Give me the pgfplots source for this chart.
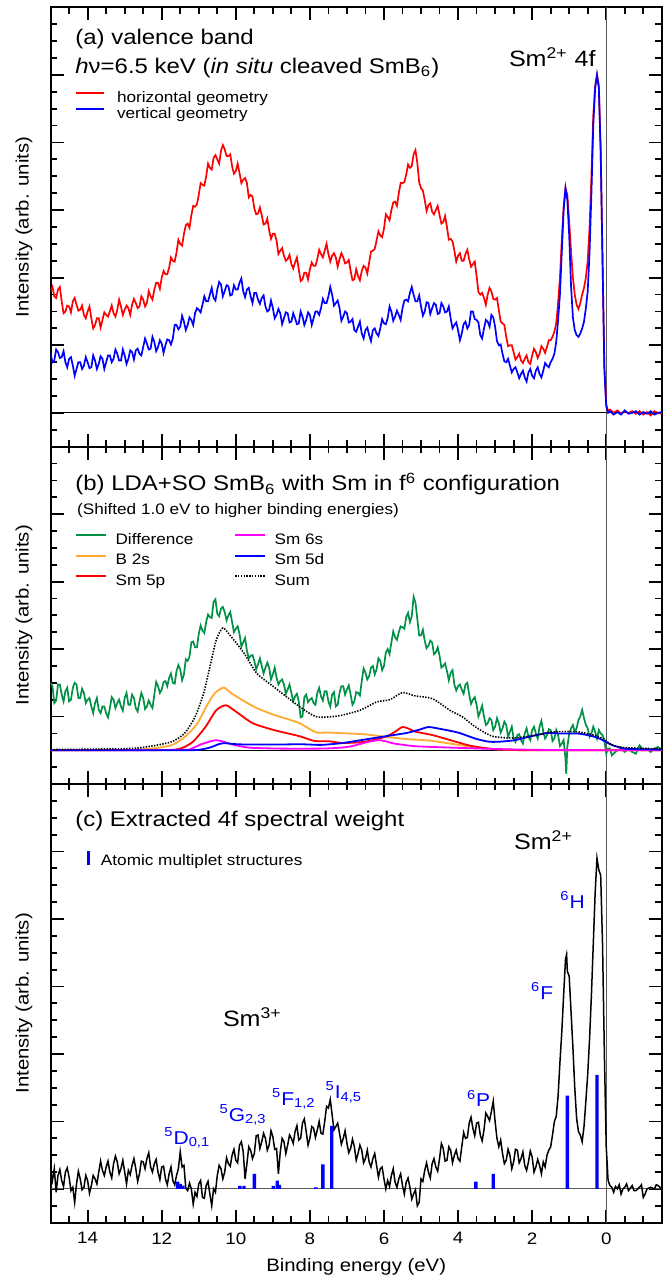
\documentclass[border=0pt]{standalone}
\usepackage{fontspec}
\setmainfont{Liberation Sans}[FakeStretch=1.13]
\usepackage{pgfplots}
\pgfplotsset{compat=1.18}
\definecolor{dgreen}{RGB}{0,145,70}
\definecolor{orng}{RGB}{255,170,50}
\definecolor{mgnt}{RGB}{255,0,255}
\definecolor{zgray}{RGB}{90,90,90}
\newcommand{\fT}{\fontsize{10.6}{12}\selectfont}
\newcommand{\fL}{\fontsize{7.6}{9}\selectfont}
\newcommand{\fA}{\fontsize{9}{11}\selectfont}
\newcommand{\fS}{\fontsize{11.1}{13}\selectfont}
\newcommand{\fB}{\fontsize{9.3}{11}\selectfont}
\pgfplotsset{
  panel/.style={
    width=305.6pt, scale only axis,
    xmin=-1.5, xmax=15, x dir=reverse,
    xtick={16,14,...,-2}, minor x tick num=3,
    yticklabels={},
    tick align=inside, tick pos=both,
    major tick length=6.5pt, minor tick length=3.2pt,
    tick style={black, line width=0.9pt},
    axis line style={line width=1pt},
    ylabel={Intensity (arb. units)},
    ylabel style={font=\fA, at={(axis description cs:-0.0435,0.5)}, anchor=center},
    legend cell align=left,
    /pgf/number format/assume math mode=true,
  },
}
\begin{document}
\begin{tikzpicture}
\useasboundingbox (0,0) rectangle (335.5pt,-638.5pt);
% ---------------- (a)
\begin{axis}[panel, at={(25.3pt,-223.35pt)}, anchor=south west, height=219.7pt,
  xticklabels={},
  ymin=-2, ymax=24, ytick={-4,0,...,28}, minor y tick num=3,
  legend style={at={(axis description cs:0.0391,0.8125)}, anchor=north west, draw=none, fill=none, inner sep=0pt, font=\fL, row sep=0pt,
    nodes={inner sep=0.4pt, text height=5.6pt, text depth=1.6pt},
    /tikz/column 1/.style={column sep=5.75pt}},
  legend image code/.code={\draw[#1] (0pt,2.7pt) -- (14.1pt,2.7pt);},
]
\addplot[black, line width=0.5pt, forget plot] coordinates {(15,0) (-1.5,0)};
\addplot[zgray, line width=0.5pt, forget plot] coordinates {(0,-2) (0,24)};
\addplot[red, line width=0.85pt] coordinates {
(15.0,7.2) (14.95,7.45) (14.9,6.9) (14.85,6.8) (14.8,7.3) (14.75,7.45) (14.7,6.6) (14.65,5.9) (14.6,6.0) (14.55,6.35) (14.5,6.3) (14.45,5.95) (14.4,6.6) (14.35,6.8) (14.3,6.4) (14.25,6.05) (14.2,6.1) (14.15,6.35) (14.1,5.8) (14.05,5.6) (14.0,6.0) (13.95,6.3) (13.9,5.6) (13.85,5.0) (13.8,5.2) (13.75,5.6) (13.7,5.6) (13.65,5.05) (13.6,5.5) (13.55,5.95) (13.5,5.8) (13.45,5.7) (13.4,6.0) (13.35,6.35) (13.3,5.9) (13.25,5.7) (13.2,6.1) (13.15,6.7) (13.1,6.3) (13.05,5.8) (13.0,6.1) (12.95,6.35) (12.9,6.2) (12.85,5.8) (12.8,6.4) (12.75,6.75) (12.7,6.5) (12.65,6.2) (12.6,6.3) (12.55,6.9) (12.5,6.7) (12.45,6.3) (12.4,6.5) (12.35,7.2) (12.3,6.9) (12.25,6.7) (12.2,7.3) (12.15,7.7) (12.1,7.7) (12.05,7.35) (12.0,8.0) (11.95,8.4) (11.9,8.2) (11.85,8.2) (11.8,8.6) (11.75,9.2) (11.7,9.0) (11.65,8.95) (11.6,9.5) (11.55,10.25) (11.5,10.0) (11.45,9.9) (11.4,10.6) (11.35,11.1) (11.3,11.2) (11.25,10.95) (11.2,11.7) (11.15,12.25) (11.1,12.2) (11.05,12.35) (11.0,12.9) (10.95,13.6) (10.9,13.5) (10.85,13.45) (10.8,14.0) (10.75,14.75) (10.7,14.5) (10.65,14.4) (10.6,15.1) (10.55,15.25) (10.5,15.0) (10.45,14.75) (10.4,15.5) (10.35,15.85) (10.3,15.6) (10.25,15.2) (10.2,15.2) (10.15,15.3) (10.1,14.6) (10.05,14.15) (10.0,14.3) (9.95,14.75) (9.9,14.2) (9.85,13.6) (9.8,13.8) (9.75,13.9) (9.7,13.6) (9.65,12.75) (9.6,12.9) (9.55,12.8) (9.5,12.1) (9.45,11.75) (9.4,11.8) (9.35,12.15) (9.3,11.7) (9.25,11.15) (9.2,11.2) (9.15,11.5) (9.1,10.8) (9.05,10.3) (9.0,10.6) (8.95,10.6) (8.9,10.2) (8.85,9.4) (8.8,9.6) (8.75,9.75) (8.7,9.3) (8.65,9.0) (8.6,9.1) (8.55,9.35) (8.5,8.8) (8.45,8.55) (8.4,8.9) (8.35,9.2) (8.3,8.5) (8.25,7.8) (8.2,7.9) (8.15,8.3) (8.1,8.3) (8.05,7.9) (8.0,8.5) (7.95,8.9) (7.9,8.7) (7.85,8.7) (7.8,9.1) (7.75,9.65) (7.7,9.4) (7.65,9.2) (7.6,9.6) (7.55,10.0) (7.5,9.4) (7.45,8.95) (7.4,9.3) (7.35,9.45) (7.3,9.2) (7.25,8.65) (7.2,9.1) (7.15,9.45) (7.1,9.2) (7.05,8.85) (7.0,8.9) (6.95,9.05) (6.9,8.4) (6.85,7.85) (6.8,7.9) (6.75,8.5) (6.7,8.1) (6.65,7.85) (6.6,8.4) (6.55,8.7) (6.5,8.6) (6.45,8.25) (6.4,8.9) (6.35,9.55) (6.3,9.6) (6.25,9.7) (6.2,10.2) (6.15,10.75) (6.1,10.5) (6.05,10.4) (6.0,10.9) (5.95,11.75) (5.9,11.6) (5.85,11.4) (5.8,12.0) (5.75,12.45) (5.7,12.5) (5.65,12.25) (5.6,13.0) (5.55,13.6) (5.5,13.6) (5.45,13.65) (5.4,14.1) (5.35,14.7) (5.3,14.5) (5.25,14.6) (5.2,15.3) (5.15,15.55) (5.1,14.8) (5.05,13.65) (5.0,13.3) (4.95,13.15) (4.9,12.6) (4.85,11.95) (4.8,12.3) (4.75,12.4) (4.7,11.9) (4.65,11.75) (4.6,12.0) (4.55,12.25) (4.5,11.7) (4.45,11.2) (4.4,11.3) (4.35,11.65) (4.3,11.0) (4.25,10.25) (4.2,10.3) (4.15,10.15) (4.1,9.6) (4.05,8.95) (4.0,9.3) (3.95,9.45) (3.9,9.0) (3.85,9.0) (3.8,9.4) (3.75,9.65) (3.7,9.1) (3.65,8.65) (3.6,8.8) (3.55,8.95) (3.5,8.1) (3.45,7.15) (3.4,7.0) (3.35,7.1) (3.3,6.8) (3.25,6.4) (3.2,7.0) (3.15,7.4) (3.1,7.2) (3.05,6.75) (3.0,6.7) (2.95,6.8) (2.9,6.1) (2.85,5.4) (2.8,5.3) (2.75,5.2) (2.7,4.5) (2.65,3.95) (2.6,4.0) (2.55,4.0) (2.5,3.6) (2.45,3.15) (2.4,3.3) (2.35,3.5) (2.3,3.1) (2.25,2.95) (2.2,3.2) (2.15,3.4) (2.1,3.0) (2.05,2.9) (2.0,3.4) (1.95,3.8) (1.9,3.6) (1.85,3.25) (1.8,3.5) (1.75,3.95) (1.7,3.8) (1.65,3.55) (1.6,3.9) (1.55,4.3) (1.5,4.3) (1.45,4.5) (1.4,4.8) (1.35,5.3) (1.3,6.5) (1.25,8.0) (1.2,10.2) (1.15,12.2) (1.1,13.3) (1.05,12.9) (1.0,11.3) (0.95,9.6) (0.9,8.0) (0.85,7.0) (0.8,6.4) (0.75,6.15) (0.7,6.5) (0.65,7.0) (0.6,7.4) (0.55,8.0) (0.5,9.0) (0.45,11.0) (0.4,14.0) (0.35,17.6) (0.3,19.3) (0.25,20.0) (0.2,19.4) (0.15,15.6) (0.1,9.0) (0.05,2.8) (0.0,0.5) (-0.05,0.1) (-0.1,0.2) (-0.2,0.0) (-0.3,0.15) (-0.4,-0.05) (-0.5,0.1) (-0.6,0.0) (-0.7,0.1) (-0.8,-0.05) (-0.9,0.1) (-1.0,-0.1) (-1.1,0.05) (-1.2,-0.15) (-1.3,0.1) (-1.4,0.0) (-1.5,-0.05)};
\addlegendentry{horizontal geometry}
\addplot[blue, line width=0.85pt] coordinates {
(15.0,3.5) (14.95,3.0) (14.9,3.1) (14.85,3.75) (14.8,3.6) (14.75,3.25) (14.7,3.3) (14.65,3.65) (14.6,3.0) (14.55,2.7) (14.5,3.2) (14.45,3.3) (14.4,2.8) (14.35,2.2) (14.3,2.6) (14.25,3.0) (14.2,3.0) (14.15,2.6) (14.1,2.8) (14.05,3.3) (14.0,3.0) (13.95,2.65) (13.9,2.7) (13.85,3.4) (13.8,3.1) (13.75,2.6) (13.7,2.9) (13.65,3.35) (13.6,3.2) (13.55,2.6) (13.5,3.0) (13.45,3.4) (13.4,3.4) (13.35,3.0) (13.3,3.2) (13.25,3.75) (13.2,3.5) (13.15,3.1) (13.1,3.1) (13.05,3.75) (13.0,3.4) (12.95,2.9) (12.9,3.2) (12.85,3.7) (12.8,3.6) (12.75,3.15) (12.7,3.7) (12.65,3.8) (12.6,3.5) (12.55,3.4) (12.5,3.9) (12.45,4.4) (12.4,4.1) (12.35,3.75) (12.3,3.8) (12.25,4.5) (12.2,4.2) (12.15,3.65) (12.1,3.9) (12.05,4.3) (12.0,4.1) (11.95,3.55) (11.9,4.0) (11.85,4.35) (11.8,4.3) (11.75,4.05) (11.7,4.4) (11.65,5.2) (11.6,5.2) (11.55,4.95) (11.5,5.1) (11.45,5.75) (11.4,5.4) (11.35,4.9) (11.3,5.2) (11.25,5.65) (11.2,5.5) (11.15,5.2) (11.1,5.9) (11.05,6.2) (11.0,6.1) (10.95,5.95) (10.9,6.4) (10.85,6.9) (10.8,6.6) (10.75,6.6) (10.7,7.0) (10.65,7.4) (10.6,6.8) (10.55,6.65) (10.5,7.3) (10.45,7.75) (10.4,7.6) (10.35,6.9) (10.3,7.2) (10.25,7.55) (10.2,7.5) (10.15,6.95) (10.1,7.0) (10.05,7.55) (10.0,7.3) (9.95,7.3) (9.9,7.7) (9.85,7.95) (9.8,7.2) (9.75,6.85) (9.7,7.3) (9.65,7.4) (9.6,6.9) (9.55,6.5) (9.5,7.1) (9.45,7.1) (9.4,6.7) (9.35,6.45) (9.3,6.8) (9.25,6.95) (9.2,6.3) (9.15,6.0) (9.1,6.1) (9.05,6.65) (9.0,6.2) (8.95,5.6) (8.9,5.8) (8.85,6.15) (8.8,5.9) (8.75,5.25) (8.7,5.6) (8.65,5.95) (8.6,5.9) (8.55,5.35) (8.5,5.4) (8.45,5.9) (8.4,5.6) (8.35,5.25) (8.3,5.3) (8.25,6.0) (8.2,5.7) (8.15,5.2) (8.1,5.5) (8.05,5.95) (8.0,5.8) (7.95,5.2) (7.9,5.6) (7.85,6.0) (7.8,6.0) (7.75,5.8) (7.7,6.2) (7.65,6.75) (7.6,6.5) (7.55,6.5) (7.5,6.9) (7.45,7.45) (7.4,7.0) (7.35,6.35) (7.3,6.5) (7.25,6.65) (7.2,6.2) (7.15,5.45) (7.1,5.7) (7.05,6.0) (7.0,5.9) (6.95,5.35) (6.9,5.4) (6.85,5.55) (6.8,4.9) (6.75,4.8) (6.7,5.1) (6.65,5.4) (6.6,4.7) (6.55,4.4) (6.5,4.9) (6.45,5.05) (6.4,4.6) (6.35,4.25) (6.3,4.9) (6.25,5.0) (6.2,4.7) (6.15,4.55) (6.1,5.0) (6.05,5.55) (6.0,5.3) (5.95,5.25) (5.9,5.6) (5.85,6.3) (5.8,6.0) (5.75,5.45) (5.7,5.7) (5.65,6.05) (5.6,5.8) (5.55,5.5) (5.5,6.2) (5.45,6.65) (5.4,6.7) (5.35,6.6) (5.3,7.1) (5.25,7.45) (5.2,7.0) (5.15,6.6) (5.1,6.6) (5.05,6.95) (5.0,6.3) (4.95,5.75) (4.9,6.0) (4.85,6.55) (4.8,6.5) (4.75,5.85) (4.7,6.2) (4.65,6.5) (4.6,6.4) (4.55,5.85) (4.5,5.9) (4.45,6.5) (4.4,6.3) (4.35,5.95) (4.3,6.0) (4.25,6.3) (4.2,5.6) (4.15,5.0) (4.1,5.2) (4.05,5.35) (4.0,4.9) (3.95,4.3) (3.9,4.7) (3.85,5.25) (3.8,5.4) (3.75,5.0) (3.7,5.2) (3.65,6.0) (3.6,6.0) (3.55,5.55) (3.5,5.5) (3.45,5.35) (3.4,4.6) (3.35,4.4) (3.3,5.0) (3.25,5.5) (3.2,5.4) (3.15,5.1) (3.1,5.8) (3.05,5.65) (3.0,5.1) (2.95,4.25) (2.9,4.0) (2.85,4.05) (2.8,3.5) (2.75,3.05) (2.7,3.0) (2.65,3.2) (2.6,2.8) (2.55,2.4) (2.5,2.6) (2.45,2.7) (2.4,2.4) (2.35,2.05) (2.3,2.3) (2.25,2.5) (2.2,2.1) (2.15,1.85) (2.1,2.4) (2.05,2.6) (2.0,2.2) (1.95,2.05) (1.9,2.5) (1.85,2.7) (1.8,2.3) (1.75,2.1) (1.7,2.5) (1.65,2.95) (1.6,2.8) (1.55,2.7) (1.5,3.0) (1.45,3.2) (1.4,3.5) (1.35,4.2) (1.3,5.5) (1.25,7.0) (1.2,9.5) (1.15,12.0) (1.1,13.3) (1.05,12.6) (1.0,10.5) (0.95,7.5) (0.9,5.65) (0.85,4.9) (0.8,4.6) (0.75,4.5) (0.7,4.7) (0.65,5.0) (0.6,5.4) (0.55,6.2) (0.5,7.2) (0.45,9.5) (0.4,13.0) (0.35,17.0) (0.3,19.2) (0.25,20.0) (0.2,19.2) (0.15,15.4) (0.1,9.0) (0.05,2.5) (0.0,0.4) (-0.05,0.0) (-0.1,0.1) (-0.2,-0.1) (-0.3,0.05) (-0.4,-0.1) (-0.5,0.15) (-0.6,-0.05) (-0.7,0.0) (-0.8,0.1) (-0.9,-0.1) (-1.0,0.05) (-1.1,-0.05) (-1.2,0.1) (-1.3,-0.1) (-1.4,0.0) (-1.5,0.05)};
\addlegendentry{vertical geometry}
\end{axis}
% ---------------- (b)
\begin{axis}[panel, at={(25.3pt,-392pt)}, anchor=south west, height=168.65pt,
  xticklabels={},
  ymin=-2, ymax=18, ytick={-6,-2,...,22}, minor y tick num=3,
  legend columns=3, transpose legend,
  legend style={at={(axis description cs:0.0399,0.7538)}, anchor=north west, draw=none, fill=none, inner sep=0pt, font=\fL, row sep=0pt,
    nodes={inner sep=1.5pt, text height=5.6pt, text depth=1.6pt},
    /tikz/column 1/.style={column sep=2.7pt},
    /tikz/column 2/.style={column sep=18.9pt},
    /tikz/column 3/.style={column sep=2.7pt}},
  legend image code/.code={\draw[#1] (0pt,2.5pt) -- (15pt,2.5pt);},
]
\addplot[black, line width=0.5pt, forget plot] coordinates {(15,0) (-1.5,0)};
\addplot[zgray, line width=0.5pt, forget plot] coordinates {(0,-2) (0,18)};
\addplot[dgreen, line width=0.85pt] coordinates {
(15.0,4.0) (14.95,3.8) (14.9,2.8) (14.85,2.95) (14.8,3.9) (14.75,3.9) (14.7,3.3) (14.65,2.9) (14.6,3.5) (14.55,3.7) (14.5,2.9) (14.45,3.0) (14.4,3.7) (14.35,4.0) (14.3,3.9) (14.25,3.1) (14.2,3.1) (14.15,3.65) (14.1,3.4) (14.05,2.8) (14.0,3.0) (13.95,3.1) (13.9,2.6) (13.85,2.2) (13.8,2.8) (13.75,3.1) (13.7,2.4) (13.65,2.2) (13.6,2.6) (13.55,2.6) (13.5,2.2) (13.45,1.95) (13.4,2.5) (13.35,3.15) (13.3,3.0) (13.25,2.5) (13.2,2.8) (13.15,3.0) (13.1,2.6) (13.05,2.35) (13.0,3.1) (12.95,3.4) (12.9,2.7) (12.85,2.7) (12.8,3.3) (12.75,3.1) (12.7,2.5) (12.65,2.3) (12.6,2.9) (12.55,3.4) (12.5,3.1) (12.45,2.45) (12.4,2.6) (12.35,2.95) (12.3,2.7) (12.25,2.5) (12.2,3.3) (12.15,4.05) (12.1,3.8) (12.05,3.4) (12.0,3.6) (11.95,4.05) (11.9,4.1) (11.85,3.8) (11.8,4.3) (11.75,4.55) (11.7,4.0) (11.65,3.95) (11.6,4.7) (11.55,5.05) (11.5,4.8) (11.45,4.15) (11.4,4.5) (11.35,5.4) (11.3,5.3) (11.25,5.55) (11.2,6.4) (11.15,6.45) (11.1,6.1) (11.05,6.1) (11.0,6.9) (10.95,7.4) (10.9,7.1) (10.85,6.95) (10.8,7.6) (10.75,8.05) (10.7,7.9) (10.65,7.85) (10.6,8.8) (10.55,8.95) (10.5,8.1) (10.45,7.95) (10.4,8.4) (10.35,8.5) (10.3,8.2) (10.25,7.7) (10.2,8.0) (10.15,8.2) (10.1,7.6) (10.05,7.0) (10.0,7.2) (9.95,7.35) (9.9,6.9) (9.85,6.15) (9.8,6.4) (9.75,6.65) (9.7,5.9) (9.65,5.45) (9.6,5.6) (9.55,5.65) (9.5,5.3) (9.45,4.8) (9.4,5.1) (9.35,5.45) (9.3,5.0) (9.25,4.55) (9.2,4.9) (9.15,5.2) (9.1,4.9) (9.05,4.2) (9.0,4.5) (8.95,4.9) (8.9,4.3) (8.85,3.9) (8.8,4.1) (8.75,4.2) (8.7,3.9) (8.65,3.35) (8.6,3.6) (8.55,3.9) (8.5,3.4) (8.45,2.9) (8.4,3.2) (8.35,3.35) (8.3,2.9) (8.25,1.95) (8.2,2.0) (8.15,3.15) (8.1,3.3) (8.05,2.85) (8.0,3.0) (7.95,3.1) (7.9,2.8) (7.85,2.7) (7.8,3.4) (7.75,3.7) (7.7,3.2) (7.65,2.95) (7.6,3.5) (7.55,3.5) (7.5,2.9) (7.45,2.6) (7.4,3.3) (7.35,3.45) (7.3,2.6) (7.25,2.7) (7.2,3.4) (7.15,3.8) (7.1,3.8) (7.05,3.3) (7.0,3.6) (6.95,3.85) (6.9,3.3) (6.85,2.7) (6.8,2.9) (6.75,3.45) (6.7,3.4) (6.65,3.25) (6.6,4.1) (6.55,4.85) (6.5,4.6) (6.45,4.2) (6.4,4.4) (6.35,4.9) (6.3,5.0) (6.25,4.5) (6.2,4.8) (6.15,5.45) (6.1,5.3) (6.05,4.75) (6.0,5.0) (5.95,5.8) (5.9,6.0) (5.85,5.7) (5.8,6.4) (5.75,7.05) (5.7,6.7) (5.65,6.55) (5.6,7.0) (5.55,7.35) (5.5,7.3) (5.45,7.2) (5.4,7.9) (5.35,8.15) (5.3,7.6) (5.25,7.95) (5.2,9.1) (5.15,8.75) (5.1,7.8) (5.05,6.8) (5.0,6.8) (4.95,7.15) (4.9,6.5) (4.85,6.05) (4.8,6.2) (4.75,6.5) (4.7,6.4) (4.65,5.7) (4.6,5.8) (4.55,6.1) (4.5,5.6) (4.45,4.9) (4.4,5.0) (4.35,5.15) (4.3,4.7) (4.25,4.15) (4.2,4.6) (4.15,4.75) (4.1,3.9) (4.05,3.55) (4.0,3.8) (3.95,3.9) (3.9,3.6) (3.85,3.35) (3.8,3.9) (3.75,4.0) (3.7,3.3) (3.65,2.75) (3.6,3.0) (3.55,3.15) (3.5,2.7) (3.45,2.0) (3.4,2.3) (3.35,2.65) (3.3,2.0) (3.25,1.5) (3.2,1.6) (3.15,1.9) (3.1,1.8) (3.05,1.2) (3.0,1.4) (2.95,1.9) (2.9,1.6) (2.85,1.05) (2.8,1.3) (2.75,1.7) (2.7,1.5) (2.65,0.8) (2.6,1.1) (2.55,1.4) (2.5,0.7) (2.45,0.5) (2.4,0.9) (2.35,0.95) (2.3,0.6) (2.25,0.4) (2.2,1.0) (2.15,1.3) (2.1,0.8) (2.05,0.6) (2.0,1.2) (1.95,1.4) (1.9,1.0) (1.85,0.7) (1.8,1.4) (1.75,1.75) (1.7,1.1) (1.65,0.7) (1.6,0.9) (1.55,1.25) (1.5,1.2) (1.45,0.55) (1.4,0.7) (1.35,1.2) (1.3,0.9) (1.25,0.25) (1.2,0.4) (1.15,0.6) (1.1,-0.5) (1.08,-1.4) (1.05,0.2) (1.0,1.0) (0.95,1.3) (0.9,1.5) (0.85,1.1) (0.8,1.3) (0.75,1.8) (0.7,2.0) (0.65,2.4) (0.6,1.9) (0.55,1.5) (0.5,1.3) (0.45,0.8) (0.4,1.0) (0.35,1.4) (0.3,1.1) (0.25,0.7) (0.2,1.2) (0.15,1.0) (0.1,0.9) (0.05,0.6) (0.0,-0.2) (-0.05,0.1) (-0.1,0.1) (-0.15,-0.3) (-0.2,-0.2) (-0.3,0.0) (-0.4,0.1) (-0.5,-0.1) (-0.6,0.1) (-0.7,-0.1) (-0.8,-0.2) (-0.9,0.3) (-1.0,0.0) (-1.1,0.1) (-1.2,-0.1) (-1.3,0.1) (-1.4,0.2) (-1.5,0.0)};
\addlegendentry{Difference}
\addplot[orng, line width=0.9pt, smooth, tension=0.4] coordinates {
(15,0) (13,0.02) (12.3,0.1) (11.74,0.3) (11.4,0.75) (11.05,1.55) (10.82,2.5) (10.58,3.35) (10.33,3.72) (10.12,3.38) (9.77,2.9) (9.43,2.5) (8.97,2.1) (8.6,1.85) (8.27,1.6) (8.0,1.25) (7.81,1.05) (7.5,1.05) (7.0,1.0) (6.54,0.95) (5.96,0.8) (5.38,0.66) (4.8,0.58) (4.22,0.4) (3.65,0.2) (3.07,0.07) (2.5,0.02) (2,0) (-1.5,0)};
\addlegendentry{B 2s}
\addplot[red, line width=0.9pt, smooth, tension=0.4] coordinates {
(15,0) (12,0.01) (11.5,0.1) (11.16,0.5) (10.82,1.38) (10.53,2.37) (10.27,2.67) (10.0,2.3) (9.54,1.6) (8.97,1.2) (8.5,0.95) (8.27,0.83) (7.87,0.55) (7.46,0.53) (7.12,0.43) (6.54,0.5) (5.96,0.8) (5.7,1.1) (5.5,1.38) (5.3,1.25) (5.15,1.1) (4.69,0.9) (4.1,0.53) (3.65,0.26) (3.07,0.08) (2.5,0.02) (2,0) (-1.5,0)};
\addlegendentry{Sm 5p}
\addplot[mgnt, line width=0.9pt, smooth, tension=0.4] coordinates {
(15,0) (11.5,0.02) (11.2,0.1) (10.93,0.36) (10.7,0.52) (10.53,0.6) (10.35,0.52) (10.12,0.36) (9.66,0.16) (8.85,0.1) (7.69,0.1) (7.2,0.15) (6.88,0.24) (6.42,0.5) (6.13,0.6) (5.9,0.5) (5.73,0.4) (5.15,0.24) (4.22,0.16) (3.07,0.08) (2,0.03) (1,0.01) (-1.5,0)};
\addlegendentry{Sm 6s}
\addplot[blue, line width=0.9pt, smooth, tension=0.4] coordinates {
(15,0) (11.5,0) (11,0.03) (10.7,0.16) (10.45,0.37) (10.29,0.42) (9.89,0.35) (8.85,0.34) (8.27,0.36) (7.69,0.32) (7.12,0.43) (6.54,0.63) (5.96,0.83) (5.38,1.03) (5.0,1.25) (4.8,1.38) (4.46,1.26) (4.0,1.05) (3.53,0.69) (3.2,0.52) (2.95,0.5) (2.49,0.59) (2.03,0.83) (1.57,1.03) (1.22,0.99) (0.76,0.99) (0.4,0.85) (0.18,0.69) (-0.17,0.3) (-0.51,0.1) (-0.98,0.06) (-1.5,0.05)};
\addlegendentry{Sm 5d}
\addplot[black, line width=0.8pt, dash pattern=on 0.7pt off 0.7pt, smooth, tension=0.4] coordinates {
(15,0.04) (12.9,0.1) (12.3,0.24) (11.74,0.5) (11.39,0.99) (11.1,1.98) (10.87,3.36) (10.7,4.94) (10.53,6.52) (10.35,7.25) (10.12,6.72) (9.77,5.73) (9.43,4.55) (8.97,3.75) (8.27,2.57) (7.81,1.98) (7.23,2.04) (6.65,2.37) (6.19,2.87) (5.84,3.0) (5.5,3.42) (5.15,3.22) (4.69,3.06) (4.22,2.37) (3.88,1.98) (3.53,1.38) (3.07,0.83) (2.49,0.73) (1.91,0.89) (1.45,1.09) (0.76,1.09) (0.18,0.79) (-0.17,0.3) (-0.51,0.16) (-1.5,0.08)};
\addlegendentry{Sum}
\end{axis}
% ---------------- (c)
\begin{axis}[panel, at={(25.3pt,-611.35pt)}, anchor=south west, height=219.35pt,
  ymin=-2, ymax=24, ytick={-4,0,...,28}, minor y tick num=3,
  xticklabel style={font=\fontsize{8.3}{10}\selectfont, inner sep=0pt, yshift=-4.7pt},
  xlabel={Binding energy (eV)},
  xlabel style={font=\fA, at={(axis description cs:0.5,-0.1003)}, anchor=center},
  legend style={at={(axis description cs:0.0584,0.848)}, anchor=north west, draw=none, fill=none, inner sep=0pt, font=\fL,
    nodes={inner sep=0.4pt, text height=5.6pt, text depth=1.6pt},
    /tikz/column 1/.style={column sep=5.25pt}},
]
\addplot[zgray, line width=0.5pt, forget plot] coordinates {(15,0) (-1.5,0)};
\addplot[zgray, line width=0.5pt, forget plot] coordinates {(0,-2) (0,24)};
\addplot[black, line width=0.75pt, forget plot] coordinates {
(15.0,1.1) (14.95,0.5) (14.9,1.2) (14.85,-0.2) (14.8,0.8) (14.75,1.15) (14.7,0.5) (14.65,0.15) (14.6,1.0) (14.55,1.25) (14.5,0.7) (14.45,-0.1) (14.4,0.1) (14.35,-0.8) (14.3,0.3) (14.25,1.05) (14.2,0.6) (14.15,-0.05) (14.1,0.1) (14.05,0.8) (14.0,0.5) (13.95,-0.25) (13.9,0.2) (13.85,0.8) (13.8,0.6) (13.75,0.3) (13.7,1.0) (13.65,1.65) (13.6,1.1) (13.55,0.8) (13.5,1.3) (13.45,1.65) (13.4,1.0) (13.35,0.65) (13.3,1.5) (13.25,1.95) (13.2,1.6) (13.15,0.9) (13.1,1.2) (13.05,1.7) (13.0,1.0) (12.95,0.3) (12.9,1.1) (12.85,0.85) (12.8,1.4) (12.75,1.8) (12.7,1.2) (12.65,0.45) (12.6,0.9) (12.55,1.65) (12.5,1.6) (12.45,1.2) (12.4,1.8) (12.35,2.15) (12.3,1.3) (12.25,1.0) (12.2,1.5) (12.15,1.75) (12.1,1.0) (12.05,0.55) (12.0,1.3) (11.95,1.35) (11.9,0.6) (11.85,0.25) (11.8,0.9) (11.75,1.3) (11.7,0.5) (11.65,0.25) (11.6,0.8) (11.55,1.2) (11.5,2.2) (11.45,1.3) (11.4,1.4) (11.35,0.05) (11.3,-0.1) (11.25,0.35) (11.2,0.0) (11.15,-0.9) (11.1,-0.2) (11.05,-0.45) (11.0,0.3) (10.95,0.5) (10.9,-0.5) (10.85,-0.55) (10.8,0.2) (10.75,0.45) (10.7,-0.3) (10.65,-1.0) (10.6,0.0) (10.55,-0.2) (10.5,0.8) (10.45,1.4) (10.4,1.2) (10.35,0.6) (10.3,1.0) (10.25,1.85) (10.2,1.5) (10.15,1.35) (10.1,2.0) (10.05,2.35) (10.0,1.7) (9.95,1.55) (9.9,2.6) (9.85,2.8) (9.8,2.2) (9.75,0.6) (9.7,1.5) (9.65,2.5) (9.6,2.3) (9.55,1.8) (9.5,2.1) (9.45,3.15) (9.4,3.2) (9.35,2.4) (9.3,2.8) (9.25,3.3) (9.2,3.0) (9.15,2.3) (9.1,2.6) (9.05,3.45) (9.0,3.1) (8.95,2.35) (8.9,2.4) (8.85,0.9) (8.8,2.2) (8.75,3.0) (8.7,2.8) (8.65,2.1) (8.6,2.6) (8.55,3.2) (8.5,3.0) (8.45,2.7) (8.4,3.4) (8.35,3.75) (8.3,2.9) (8.25,3.0) (8.2,3.9) (8.15,4.15) (8.1,3.4) (8.05,2.6) (8.0,3.0) (7.95,3.7) (7.9,3.6) (7.85,3.05) (7.8,3.5) (7.75,4.0) (7.7,3.3) (7.65,3.25) (7.6,4.0) (7.55,4.9) (7.5,4.8) (7.45,5.3) (7.4,4.4) (7.35,3.5) (7.3,3.7) (7.25,3.9) (7.2,3.3) (7.15,2.65) (7.1,3.0) (7.05,3.45) (7.0,2.7) (6.95,2.15) (6.9,2.4) (6.85,2.95) (6.8,2.5) (6.75,1.7) (6.7,2.1) (6.65,2.6) (6.6,2.3) (6.55,1.55) (6.5,1.8) (6.45,2.3) (6.4,1.6) (6.35,1.3) (6.3,1.8) (6.25,2.1) (6.2,1.4) (6.15,0.7) (6.1,1.2) (6.05,1.3) (6.0,0.6) (5.95,0.0) (5.9,0.5) (5.85,0.15) (5.8,0.8) (5.75,1.2) (5.7,0.4) (5.65,0.1) (5.6,0.6) (5.55,0.9) (5.5,0.2) (5.45,-0.3) (5.4,0.4) (5.35,0.65) (5.3,0.1) (5.25,-0.6) (5.2,-0.3) (5.15,-0.05) (5.1,-1.0) (5.05,-0.8) (5.0,0.6) (4.95,0.45) (4.9,1.1) (4.85,1.55) (4.8,1.0) (4.75,0.65) (4.7,1.5) (4.65,1.8) (4.6,1.3) (4.55,1.05) (4.5,1.8) (4.45,2.7) (4.4,2.4) (4.35,1.65) (4.3,1.7) (4.25,2.5) (4.2,2.3) (4.15,1.55) (4.1,2.0) (4.05,2.3) (4.0,1.8) (3.95,1.65) (3.9,2.5) (3.85,3.35) (3.8,3.0) (3.75,3.05) (3.7,3.9) (3.65,4.25) (3.6,3.6) (3.55,3.15) (3.5,3.9) (3.45,3.95) (3.4,3.2) (3.35,2.85) (3.3,3.5) (3.25,4.5) (3.2,4.3) (3.15,4.05) (3.1,4.6) (3.05,5.2) (3.0,4.0) (2.95,3.0) (2.9,2.5) (2.85,2.9) (2.8,2.1) (2.75,1.5) (2.7,1.7) (2.65,2.35) (2.6,2.0) (2.55,1.2) (2.5,1.6) (2.45,2.35) (2.4,2.3) (2.35,1.55) (2.3,1.8) (2.25,2.2) (2.2,1.4) (2.15,1.1) (2.1,1.6) (2.05,2.25) (2.0,1.9) (1.95,1.0) (1.9,1.3) (1.85,1.75) (1.8,1.4) (1.75,0.9) (1.7,1.6) (1.65,1.3) (1.6,2.0) (1.55,2.3) (1.5,2.5) (1.45,3.2) (1.4,4.0) (1.35,4.3) (1.3,5.5) (1.25,7.5) (1.2,9.3) (1.15,11.5) (1.1,13.6) (1.07,13.9) (1.05,12.9) (1.0,12.6) (0.95,10.5) (0.9,8.4) (0.85,6.0) (0.8,4.2) (0.75,3.4) (0.7,3.2) (0.65,2.8) (0.6,3.7) (0.55,5.2) (0.5,6.8) (0.45,8.9) (0.4,11.5) (0.35,14.5) (0.3,17.5) (0.25,19.6) (0.2,18.9) (0.15,18.6) (0.1,14.5) (0.05,8.0) (0.0,2.5) (-0.05,0.5) (-0.1,0.2) (-0.15,0.1) (-0.2,-0.2) (-0.25,0.15) (-0.3,0.0) (-0.35,0.25) (-0.4,-0.3) (-0.45,0.0) (-0.5,0.1) (-0.55,0.3) (-0.6,-0.1) (-0.7,0.2) (-0.75,-0.1) (-0.8,-0.1) (-0.9,0.1) (-0.95,0.25) (-1.0,-0.5) (-1.05,-0.3) (-1.1,0.0) (-1.2,0.1) (-1.3,0.0) (-1.35,0.25) (-1.4,0.2) (-1.5,0.0)};
\addplot[ybar, bar width=1.7pt, fill=blue, draw=none,
  legend image code/.code={\fill[blue] (0pt,-1.65pt) rectangle (1.5pt,5.35pt);}] coordinates {
(11.57,0.43) (11.50,0.30) (11.43,0.20) (9.89,0.18) (9.78,0.18) (9.50,0.89) (8.99,0.18) (8.88,0.5) (8.82,0.25) (7.84,0.1) (7.65,1.46) (7.41,3.74) (3.52,0.43) (3.05,0.89) (1.05,5.53) (0.25,6.76)};
\addlegendentry{Atomic multiplet structures}
\end{axis}
% ---------------- texts
\begin{scope}[every node/.style={inner sep=0pt, anchor=base west}]
\node[font=\fT] at (37.5pt,-22.5pt) {(a) valence band};
\node[font=\fT] at (37.5pt,-36.65pt) {\textit{h}ν=6.5 keV (\textit{in situ} cleaved SmB\textsubscript{6})};
\node[font=\fS] at (254.3pt,-33.35pt) {Sm\textsuperscript{2+} 4f};
\node[font=\fT] at (37.5pt,-245.5pt) {(b) LDA+SO SmB\textsubscript{6} with Sm in f\textsuperscript{6} configuration};
\node[font=\fL] at (38.35pt,-257.5pt) {(Shifted 1.0 eV to higher binding energies)};
\node[font=\fT] at (37.5pt,-413.35pt) {(c) Extracted 4f spectral weight};
\node[font=\fS] at (256.85pt,-424.65pt) {Sm\textsuperscript{2+}};
\node[font=\fS] at (111.3pt,-513pt) {Sm\textsuperscript{3+}};
\node[font=\fB, text=blue] at (280pt,-454.15pt) {\textsuperscript{6}H};
\node[font=\fB, text=blue] at (265.4pt,-499.65pt) {\textsuperscript{6}F};
\node[font=\fB, text=blue] at (233.3pt,-553.35pt) {\textsuperscript{6}P};
\node[font=\fB, text=blue] at (162.65pt,-549.15pt) {\textsuperscript{5}I\textsubscript{4,5}};
\node[font=\fB, text=blue] at (135.9pt,-552.5pt) {\textsuperscript{5}F\textsubscript{1,2}};
\node[font=\fB, text=blue] at (109.6pt,-560.5pt) {\textsuperscript{5}G\textsubscript{2,3}};
\node[font=\fB, text=blue] at (82pt,-572pt) {\textsuperscript{5}D\textsubscript{0,1}};
\end{scope}
\end{tikzpicture}
\end{document}
